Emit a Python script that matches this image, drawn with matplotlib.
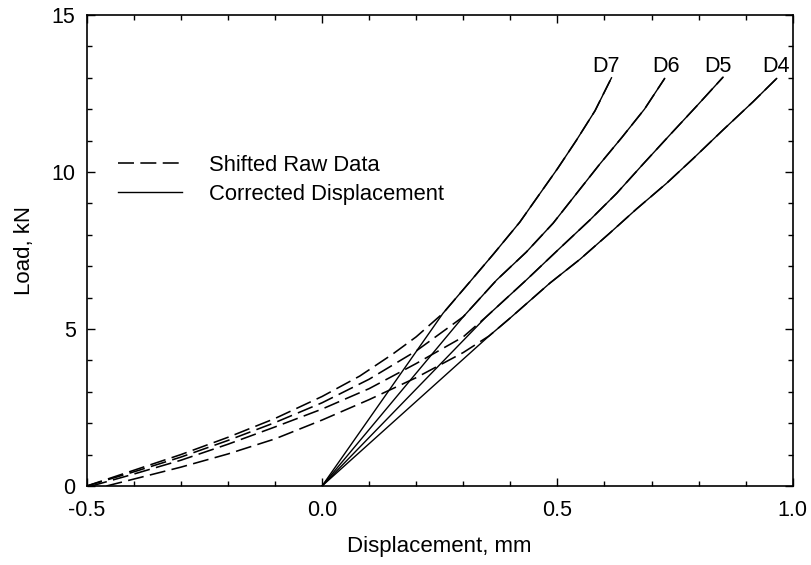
import matplotlib
matplotlib.use("Agg")
import matplotlib.pyplot as plt
from matplotlib.ticker import MultipleLocator, FormatStrFormatter

plt.rcParams['font.family'] = ['Liberation Sans', 'DejaVu Sans']

# ---------------- data ----------------
series_names = ["D7", "D6", "D5", "D4"]

# Corrected displacement (solid)
d7_x = [0.0, 0.257, 0.314, 0.365, 0.420, 0.460, 0.500, 0.540, 0.580, 0.615]
d7_y = [0.0, 5.50, 6.50, 7.40, 8.40, 9.25, 10.10, 11.00, 11.95, 13.00]
d6_x = [0.0, 0.300, 0.371, 0.434, 0.491, 0.541, 0.590, 0.637, 0.685, 0.728]
d6_y = [0.0, 5.39, 6.56, 7.45, 8.37, 9.32, 10.25, 11.10, 12.00, 12.98]
d5_x = [0.0, 0.349, 0.434, 0.505, 0.569, 0.626, 0.682, 0.739, 0.796, 0.852]
d5_y = [0.0, 5.39, 6.56, 7.57, 8.47, 9.32, 10.25, 11.18, 12.10, 13.02]
d4_x = [0.0, 0.355, 0.399, 0.484, 0.548, 0.611, 0.668, 0.732, 0.788, 0.852, 0.916, 0.966]
d4_y = [0.0, 4.78, 5.34, 6.46, 7.22, 8.05, 8.82, 9.64, 10.42, 11.34, 12.24, 12.98]

# Shifted raw data, toe region (dashed) - joins the corrected curve afterwards
r7_x = [-0.500, -0.400, -0.300, -0.200, -0.100, 0.000, 0.080, 0.150, 0.200]
r7_y = [0.00, 0.50, 1.00, 1.55, 2.15, 2.85, 3.50, 4.20, 4.75]
r6_x = [-0.500, -0.400, -0.300, -0.200, -0.100, 0.000, 0.100, 0.200]
r6_y = [0.00, 0.45, 0.92, 1.45, 2.02, 2.65, 3.40, 4.30]
r5_x = [-0.490, -0.400, -0.300, -0.200, -0.100, 0.000, 0.100, 0.200, 0.300]
r5_y = [0.00, 0.38, 0.82, 1.33, 1.88, 2.45, 3.10, 3.90, 4.75]
r4_x = [-0.458, -0.400, -0.300, -0.200, -0.100, 0.000, 0.100, 0.200, 0.300]
r4_y = [0.00, 0.22, 0.60, 1.02, 1.50, 2.10, 2.75, 3.45, 4.25]

label_x = [0.603, 0.730, 0.841, 0.964]
label_y = [13.35, 13.35, 13.35, 13.35]

x_label = "Displacement, mm"
y_label = "Load, kN"
legend_labels = ["Shifted Raw Data", "Corrected Displacement"]

# ---------------- figure ----------------
W, H = 811, 565
fig = plt.figure(figsize=(W / 100, H / 100), dpi=100)
ax = fig.add_axes([86.7 / W, 1 - 486 / H, (792.7 - 86.7) / W, (486 - 15) / H])

solids = [(d7_x, d7_y), (d6_x, d6_y), (d5_x, d5_y), (d4_x, d4_y)]
raws = [(r7_x, r7_y), (r6_x, r6_y), (r5_x, r5_y), (r4_x, r4_y)]

dash = (10, 4)
for i, ((sx, sy), (rx, ry)) in enumerate(zip(solids, raws)):
    full_x = list(rx) + list(sx[1:])
    full_y = list(ry) + list(sy[1:])
    ax.plot(full_x, full_y, color='black', lw=1.15, dashes=dash,
            label=legend_labels[0] if i == 0 else None)
    ax.plot(sx, sy, color='black', lw=1.0,
            label=legend_labels[1] if i == 0 else None)
    ax.text(label_x[i], label_y[i], series_names[i], ha='center', va='center',
            fontsize=15.5)

ax.set_xlim(-0.5, 1.0)
ax.set_ylim(0, 15)
ax.xaxis.set_major_locator(MultipleLocator(0.5))
ax.xaxis.set_minor_locator(MultipleLocator(0.1))
ax.yaxis.set_major_locator(MultipleLocator(5))
ax.yaxis.set_minor_locator(MultipleLocator(1))
ax.xaxis.set_major_formatter(FormatStrFormatter('%.1f'))
ax.yaxis.set_major_formatter(FormatStrFormatter('%d'))

ax.tick_params(which='both', direction='in', top=True, right=True, width=1.0)
ax.tick_params(which='major', length=6)
ax.tick_params(which='minor', length=3.5)
ax.tick_params(axis='x', which='major', labelsize=15.5, pad=10)
ax.tick_params(axis='y', which='major', labelsize=15.5, pad=8)
for s in ax.spines.values():
    s.set_linewidth(1.2)

ax.set_xlabel(x_label, fontsize=16, labelpad=11)
ax.set_ylabel(y_label, fontsize=16, labelpad=12)

leg = ax.legend(loc='center left', bbox_to_anchor=((118 - 86.7) / 706, (486 - 180) / 471),
                frameon=False, fontsize=15.8, handlelength=2.9, handletextpad=1.25,
                labelspacing=0.35, borderpad=0, borderaxespad=0)

fig.savefig("out.png", dpi=100)
